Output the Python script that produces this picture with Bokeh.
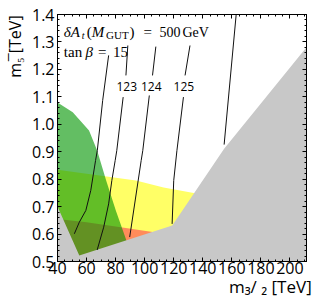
import numpy as np
from bokeh.plotting import figure
from bokeh.models import (Label, LinearAxis, Range1d, FixedTicker,
                          PrintfTickFormatter, CustomJSTickFormatter)
from bokeh.embed import file_html
from bokeh.resources import INLINE

# ---- axis ranges and ticks ----
x_lo, x_hi = 40, 211.4
y_lo, y_hi = 0.5, 1.4
x_ticks = [40, 60, 80, 100, 120, 140, 160, 180, 200]
y_ticks = [0.5, 0.6, 0.7, 0.8, 0.9, 1.0, 1.1, 1.2, 1.3, 1.4]
x_minor = [40 + 5 * i for i in range(35)]
y_minor = [round(0.5 + 0.02 * i, 2) for i in range(46)]

# ---- excluded / constraint regions (m_{3/2} [TeV], m_5bar [TeV]) ----
gray_x = [40, 55, 119, 154.7, 211.4, 211.4, 40]
gray_y = [0.70, 0.522, 0.631, 0.911, 1.281, 0.5, 0.5]

yellow_x = [40, 94, 113, 134.7, 134.7, 40]
yellow_y = [0.834, 0.795, 0.770, 0.749, 0.5, 0.5]

red_x = [40, 60, 87, 106.6, 106.6, 40]
red_y = [0.655, 0.643, 0.622, 0.607, 0.5, 0.5]

green_x = [40, 50.5, 61.7, 67.3, 73.5, 80.2, 87.5, 87.5, 40]
green_y = [1.079, 1.044, 0.977, 0.904, 0.795, 0.685, 0.576, 0.5, 0.5]

# ---- Higgs mass contours (GeV) ----
nan = float("nan")
c122_x = [51.6, 55.0, 59.5, 62.9, 66.2, 67.4, 71.1, 75.2]
c122_y = [0.601, 0.643, 0.686, 0.759, 0.868, 0.904, 1.087, 1.251]
c123_x = [67.3, 71.8, 75.2, 77.4, 79.7, 80.8, 85.2, nan, 87.1, 88.4]
c123_y = [0.542, 0.625, 0.710, 0.795, 0.868, 0.904, 1.099, nan, 1.178, 1.287]
c124_x = [89.7, 97.6, 98.7, 103.2, nan, 105.4, 107.7]
c124_y = [0.589, 0.868, 0.904, 1.105, nan, 1.178, 1.283]
c125_x = [118.9, 120.0, 122.2, 126.7, nan, 127.8, 131.2]
c125_y = [0.637, 0.795, 0.904, 1.099, nan, 1.178, 1.287]
c126_x = [154.7, 163.0]
c126_y = [0.926, 1.40]

contour_labels = ["123", "124", "125"]
contour_label_x = [87.7, 104.5, 127.0]
contour_label_y = [1.138, 1.138, 1.138]

x_title = "m\u2083/ \u2082 [TeV]"
y_title = "m\u2085\u0305 [TeV]"

# frame geometry on the page (pixels)
FL, FR, FT, FB = 51, 306, 14, 261
W, H = 321, 302
NBSP = "\u00a0"

p = figure(width=W, height=H, output_backend="svg", toolbar_location=None,
           x_range=Range1d(x_lo, x_hi), y_range=Range1d(y_lo, y_hi),
           min_border_left=FL, min_border_top=FT,
           min_border_right=W - FR, min_border_bottom=H - FB)
p.xgrid.visible = False
p.ygrid.visible = False
p.outline_line_color = "black"
p.outline_line_width = 1
p.background_fill_color = "white"
p.border_fill_color = "white"

p.patch(yellow_x, yellow_y, fill_color="#FFFF66", line_color=None)
p.patch(red_x, red_y, fill_color="#FF1A50", fill_alpha=0.5, line_color=None)
p.patch(green_x, green_y, fill_color="#009400", fill_alpha=0.61, line_color=None)
p.patch(gray_x, gray_y, fill_color="#C8C8C8", line_color=None)

for cx, cy in [(c122_x, c122_y), (c123_x, c123_y), (c124_x, c124_y),
               (c125_x, c125_y), (c126_x, c126_y)]:
    p.line(cx, cy, line_color="#111111", line_width=1)

for t, lx, ly in zip(contour_labels, contour_label_x, contour_label_y):
    p.add_layout(Label(x=lx, y=ly, text=t, text_align="center", text_baseline="middle",
                       text_font="Open Sans", text_font_size="12px", text_color="black"))

# axes styling
tick_font = "Open Sans"
for ax in [p.xaxis[0], p.yaxis[0]]:
    ax.major_label_text_font = tick_font
    ax.major_label_text_font_size = "16px"
    ax.major_label_text_color = "black"
    ax.major_tick_in = 4
    ax.major_tick_out = 0
    ax.minor_tick_in = 2
    ax.minor_tick_out = 0
    ax.axis_line_color = "black"
    ax.axis_label_text_font = tick_font
    ax.axis_label_text_font_style = "normal"
    ax.axis_label_text_color = "black"
p.xaxis[0].ticker = FixedTicker(ticks=x_ticks, minor_ticks=x_minor)
p.yaxis[0].ticker = FixedTicker(ticks=y_ticks, minor_ticks=y_minor)
p.yaxis[0].formatter = PrintfTickFormatter(format="%.1f")
p.xaxis[0].major_label_standoff = 0
p.yaxis[0].major_label_standoff = 3
# titles sit at the far end of each axis, as in the reference (centred label, leading padding)
p.xaxis[0].axis_label = NBSP * 40 + x_title
p.yaxis[0].axis_label = NBSP * 44 + y_title
p.xaxis[0].axis_label_text_font_size = "17px"
p.yaxis[0].axis_label_text_font_size = "16px"
p.xaxis[0].axis_label_standoff = -2
p.yaxis[0].axis_label_standoff = 3

blank = CustomJSTickFormatter(code="return ''")
top = LinearAxis(ticker=FixedTicker(ticks=x_ticks, minor_ticks=x_minor), formatter=blank,
                 major_label_standoff=0, major_tick_in=4, major_tick_out=0,
                 minor_tick_in=2, minor_tick_out=0)
right = LinearAxis(ticker=FixedTicker(ticks=y_ticks, minor_ticks=y_minor), formatter=blank,
                   major_label_standoff=0, major_tick_in=4, major_tick_out=0,
                   minor_tick_in=2, minor_tick_out=0)
p.add_layout(top, "above")
p.add_layout(right, "right")

def lab(text, px, py, size, font="Liberation Serif", style="normal", angle=0.0, align="left"):
    # px, py: page pixel position of the text anchor; converted to frame-relative screen units
    p.add_layout(Label(x=px - FL, y=FB - py, x_units="screen", y_units="screen",
                       text=text, text_font=font, text_font_style=style,
                       text_font_size=size, text_baseline="alphabetic", text_align=align,
                       angle=angle, text_color="black"))

# in-plot annotation: deltaA_t(M_GUT) = 500 GeV, tan beta = 15
lab("δA", 57.3, 31.5, "15px", style="italic")
lab("t", 75.3, 34.5, "10px", style="italic")
lab("(", 80.3, 31.5, "15px")
lab("M", 85.3, 31.5, "15px", style="italic")
lab("GUT", 99.5, 34.5, "11px")
lab(")", 123.0, 31.5, "15px")
lab("=", 137.0, 31.5, "15px")
lab("500", 153.0, 31.5, "14px")
lab("GeV", 176.0, 31.5, "14px")
lab("tan", 57.3, 51.0, "15px")
lab("β", 79.0, 51.0, "15px", style="italic")
lab("=", 91.5, 51.0, "15px")
lab("15", 106.5, 51.0, "15px")

open("out.html", "w").write(file_html(p, INLINE))
